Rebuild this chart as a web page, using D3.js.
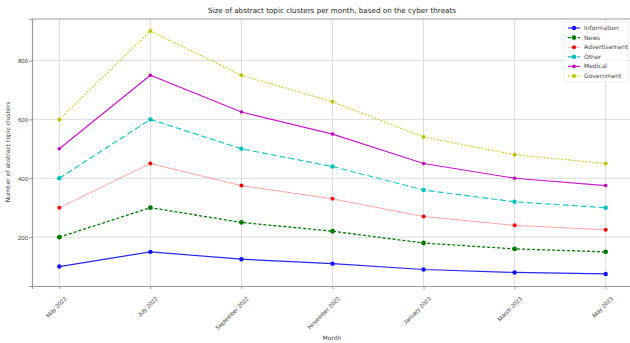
<!DOCTYPE html>
<html>
<head>
<meta charset="utf-8">
<script src="https://cdn.jsdelivr.net/npm/d3@7"></script>
<style>
  body { margin: 0; background: #fff; }
  svg { display: block; font-family: "DejaVu Sans", sans-serif; }
</style>
</head>
<body>
<svg id="chart" width="630" height="343"></svg>
<script>
// Months on the x axis
const months = ["May 2022", "July 2022", "September 2022", "November 2022", "January 2023", "March 2023", "May 2023"];

// Cluster sizes per category
const information   = [100, 150, 125, 110, 90, 80, 75];
const news          = [200, 300, 250, 220, 180, 160, 150];
const advertisement = [300, 450, 375, 330, 270, 240, 225];
const other         = [400, 600, 500, 440, 360, 320, 300];
const medical       = [500, 750, 625, 550, 450, 400, 375];
const government    = [600, 900, 750, 660, 540, 480, 450];

const yTicks = [200, 400, 600, 800];

const series = [
  { name: "Information",   values: information,   color: "#1010f0", dash: null,    width: 1.2, opacity: 0.9,  r: 2.2 },
  { name: "News",          values: news,          color: "#007a00", dash: "3,2",   width: 1.3, opacity: 1,    r: 2.4 },
  { name: "Advertisement", values: advertisement, color: "#ff0000", dash: null,    width: 1.0, opacity: 0.35, r: 2.0 },
  { name: "Other",         values: other,         color: "#00bfbf", dash: "6,3",   width: 1.2, opacity: 0.9,  r: 2.2 },
  { name: "Medical",       values: medical,       color: "#bf00bf", dash: null,    width: 1.2, opacity: 0.9,  r: 1.8 },
  { name: "Government",    values: government,    color: "#bcc400", dash: "2,1.5", width: 1.1, opacity: 0.85, r: 2.0 }
];

const svg = d3.select("#chart");
const margin = { left: 32, top: 19, right: -3, bottom: 57 };
const W = 630, H = 343;
const plotW = W - margin.left - margin.right;
const plotH = H - margin.top - margin.bottom;

const x = d3.scalePoint().domain(months).range([0, plotW]).padding(0.3);
const y = d3.scaleLinear().domain([34, 941]).range([plotH, 0]);

const g = svg.append("g").attr("transform", `translate(${margin.left},${margin.top})`);

// grid
g.append("g").selectAll("line").data(yTicks).join("line")
  .attr("x1", 0).attr("x2", plotW)
  .attr("y1", d => y(d)).attr("y2", d => y(d))
  .attr("stroke", "#dcdcdc").attr("stroke-width", 1);
g.append("g").selectAll("line").data(months).join("line")
  .attr("y1", 0).attr("y2", plotH)
  .attr("x1", d => x(d)).attr("x2", d => x(d))
  .attr("stroke", "#dcdcdc").attr("stroke-width", 1);

// axes
const xAxis = g.append("g").attr("transform", `translate(0,${plotH})`)
  .call(d3.axisBottom(x).tickSizeOuter(0).tickSize(3));
xAxis.select(".domain").attr("stroke", "#9a9a9a").attr("stroke-width", 1.2);
xAxis.selectAll(".tick line").attr("stroke", "#9a9a9a");
xAxis.selectAll(".tick text")
  .attr("font-size", 6).attr("fill", "#444")
  .attr("text-anchor", "end")
  .attr("dx", 0).attr("dy", 0)
  .attr("transform", "translate(3,9) rotate(-45)");

const yAxis = g.append("g")
  .call(d3.axisLeft(y).tickValues(yTicks).tickSizeOuter(0).tickSize(3));
yAxis.select(".domain").attr("stroke", "#9a9a9a").attr("stroke-width", 1.2);
yAxis.selectAll(".tick line").attr("stroke", "#9a9a9a");
yAxis.selectAll(".tick text").attr("font-size", 6).attr("fill", "#444").attr("x", -4);

// top spine
g.append("line").attr("x1", 0).attr("x2", plotW).attr("y1", 0).attr("y2", 0)
  .attr("stroke", "#9a9a9a").attr("stroke-width", 1);

// lines and markers
const line = d3.line().x((d, i) => x(months[i])).y(d => y(d));
series.forEach(s => {
  g.append("path").datum(s.values)
    .attr("d", line)
    .attr("fill", "none")
    .attr("stroke", s.color)
    .attr("stroke-width", s.width)
    .attr("stroke-opacity", s.opacity)
    .attr("stroke-dasharray", s.dash);
  g.append("g").selectAll("circle").data(s.values).join("circle")
    .attr("cx", (d, i) => x(months[i]))
    .attr("cy", d => y(d))
    .attr("r", s.r)
    .attr("fill", s.color);
});

// title and axis labels
svg.append("text").attr("x", 332).attr("y", 13).attr("text-anchor", "middle")
  .attr("font-size", 7.2).attr("fill", "#222")
  .text("Size of abstract topic clusters per month, based on the cyber threats");
svg.append("text").attr("x", 332).attr("y", 340).attr("text-anchor", "middle")
  .attr("font-size", 6).attr("fill", "#444").text("Month");
svg.append("text").attr("transform", "translate(10,152) rotate(-90)").attr("text-anchor", "middle")
  .attr("font-size", 6).attr("fill", "#444").text("Number of abstract topic clusters");

// legend
const leg = svg.append("g").attr("transform", "translate(564,22)");
leg.append("rect").attr("x", 0).attr("y", 0).attr("width", 64).attr("height", 60)
  .attr("fill", "#fff").attr("fill-opacity", 0.85).attr("stroke", "#ececec").attr("rx", 1.5);
series.forEach((s, i) => {
  const yy = 6 + i * 9.6;
  leg.append("line").attr("x1", 4).attr("x2", 16).attr("y1", yy).attr("y2", yy)
    .attr("stroke", s.color).attr("stroke-width", s.width)
    .attr("stroke-opacity", s.opacity).attr("stroke-dasharray", s.dash);
  leg.append("circle").attr("cx", 10).attr("cy", yy).attr("r", s.r).attr("fill", s.color);
  leg.append("text").attr("x", 20).attr("y", yy + 2).attr("font-size", 6).attr("fill", "#444").text(s.name);
});
</script>
</body>
</html>
